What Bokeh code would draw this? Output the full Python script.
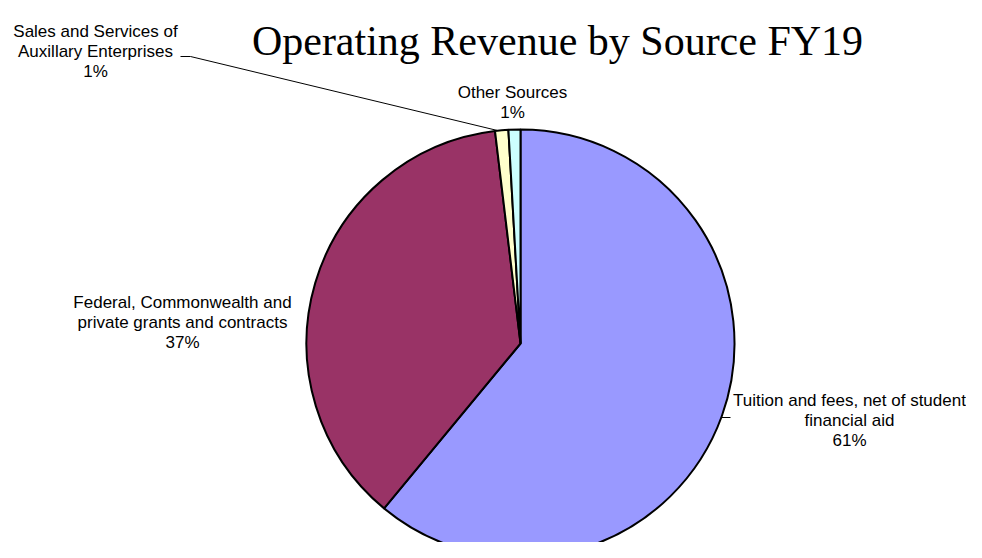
import math
from bokeh.plotting import figure
from bokeh.models import Range1d, ColumnDataSource
from bokeh.core.properties import value
from bokeh.embed import file_html
from bokeh.resources import INLINE

# ---- data ----
categories = [
    "Tuition and fees, net of student financial aid",
    "Federal, Commonwealth and private grants and contracts",
    "Sales and Services of Auxillary Enterprises",
    "Other Sources",
]
shares = [61.0, 37.1, 1.0, 0.9]
colors = ["#9999FF", "#993366", "#FFFFCC", "#CCFFFF"]
label_lines = [
    ["Tuition and fees, net of student", "financial aid"],
    ["Federal, Commonwealth and", "private grants and contracts"],
    ["Sales and Services of", "Auxillary Enterprises"],
    ["Other Sources"],
]
title = "Operating Revenue by Source FY19"

W, H = 966, 542
p = figure(width=W, height=H, output_backend="svg", toolbar_location=None,
           x_range=Range1d(0, W), y_range=Range1d(0, H), min_border=0)
p.axis.visible = False
p.grid.visible = False
p.outline_line_color = None
p.background_fill_color = "white"
p.border_fill_color = "white"

def px(x):
    return x
def py(y):
    return H - y

cx, cy, r = px(520), py(343), 214
total = sum(shares)
starts, ends = [], []
cum = 0.0
for s in shares:
    starts.append(math.pi / 2 - 2 * math.pi * cum / total)
    cum += s
    ends.append(math.pi / 2 - 2 * math.pi * cum / total)

src = ColumnDataSource(dict(start=starts, end=ends, color=colors))
p.wedge(x=cx, y=cy, radius=r, start_angle="start", end_angle="end",
        direction="clock", fill_color="color", line_color="black",
        line_width=2, source=src)

# title
p.text(x=[px(557)], y=[py(40)], text=[title], text_font=value("Liberation Serif"),
       text_font_size="42px", text_align="center", text_baseline="alphabetic",
       text_color="black")

# labels: (center page x, first line page y)
label_pos = [(849, 400), (182, 302), (95, 31), (512, 92)]
lh = 20
for lines, s, (lx, ly) in zip(label_lines, shares, label_pos):
    all_lines = lines + [f"{round(s)}%"]
    xs = [px(lx)] * len(all_lines)
    ys = [py(ly + i * lh) for i in range(len(all_lines))]
    p.text(x=xs, y=ys, text=all_lines, text_font=value("Liberation Sans"),
           text_font_size="17px", text_align="center", text_baseline="middle",
           text_color="black")

# leader lines
p.line(x=[px(180), px(190), px(497)], y=[py(56), py(56), py(130)],
       line_color="black", line_width=1)
p.line(x=[px(721), px(730)], y=[py(417), py(417)], line_color="black", line_width=1)

open("out.html", "w").write(file_html(p, INLINE))
